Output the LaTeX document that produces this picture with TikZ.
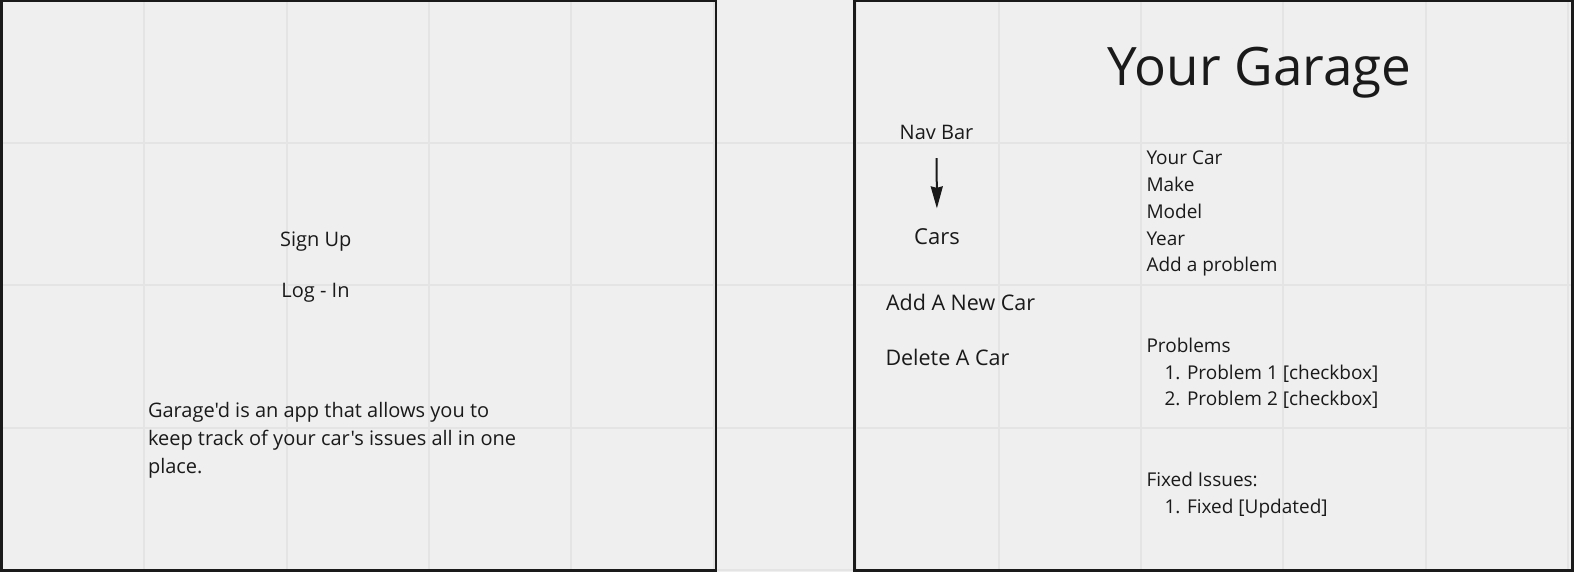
\documentclass[tikz,border=0pt]{standalone}
\usepackage{fontspec}
\setmainfont{Open Sans}
\newfontfamily\osans{Open Sans}
\usetikzlibrary{arrows.meta}
\definecolor{bg}{HTML}{EFEFEF}
\definecolor{gridc}{HTML}{E4E4E4}
\definecolor{ink}{HTML}{1A1A1A}
\begin{document}
\begin{tikzpicture}[x=1pt,y=-1pt,
  txt/.style={inner sep=0pt, outer sep=0pt, text=ink},
  fa/.style={txt, font=\osans\fontsize{20}{26}\selectfont},
  fb/.style={txt, font=\osans\fontsize{21.5}{28}\selectfont},
  fc/.style={txt, font=\osans\fontsize{19}{26}\selectfont, anchor=base west},
  title/.style={txt, font=\osans\fontsize{53}{64}\selectfont, anchor=base west},
  gridline/.style={draw=gridc, line width=2pt},
  frame/.style={draw=ink, line width=2.8pt},
  arr/.style={draw=ink, line width=2pt, -{Stealth[length=22pt, width=12pt, inset=1.5pt]}}
]
\useasboundingbox (0,0) rectangle (1574,572);
\fill[bg] (0,0) rectangle (1574,572);
% grid
\foreach \i in {0,...,11} \draw[gridline] ({1.8+142.4*\i},0) -- ++(0,572);
\foreach \j in {1,...,4} \draw[gridline] (0,{0.3+142.4*\j}) -- ++(1574,0);
% frames
\draw[frame] (1.4,1) rectangle (716,570.4);
\draw[frame] (854.7,1) rectangle (1572.3,570.4);
% left screen
\node[fa, anchor=base] (signup) at (315.7,246.7) {Sign Up};
\node[fa, anchor=base] (login) at (315.5,297.7) {Log - In};
\node[fa, anchor=base west] (desc1) at (148,417) {Garage'd is an app that allows you to};
\node[fa, anchor=base west] (desc2) at (148,445.3) {keep track of your car's issues all in one};
\node[fa, anchor=base west] (desc3) at (148,473.6) {place.};
% right screen
\node[title] (garage) at (1107.5,85.5) {Your Garage};
\node[fa, anchor=base] (navbar) at (936.5,139.5) {Nav Bar};
\node[txt, font=\osans\fontsize{22}{28}\selectfont, anchor=base] (cars) at (937,244) {Cars};
\draw[arr, shorten <=18.5pt, shorten >=19.7pt] (navbar.south) -- (cars.north);
\node[fb, anchor=base west] (addcar) at (886,310) {Add A New Car};
\node[fb, anchor=base west] (delcar) at (885.5,365) {Delete A Car};
\node[fc] (yourcar) at (1146.5,165) {Your Car};
\node[fc] (make) at (1146.5,191.7) {Make};
\node[fc] (model) at (1146.5,218.4) {Model};
\node[fc] (year) at (1146.5,245.1) {Year};
\node[fc] (addprob) at (1146.5,271.8) {Add a problem};
\node[fc] (problems) at (1146.5,352.5) {Problems};
\node[fc] (prob1) at (1164.5,379.2) {1. Problem 1 [checkbox]};
\node[fc] (prob2) at (1164.5,405.9) {2. Problem 2 [checkbox]};
\node[fc] (fixedh) at (1146.5,486.5) {Fixed Issues:};
\node[fc] (fixed1) at (1164.5,513.3) {1. Fixed [Updated]};
\end{tikzpicture}
\end{document}
